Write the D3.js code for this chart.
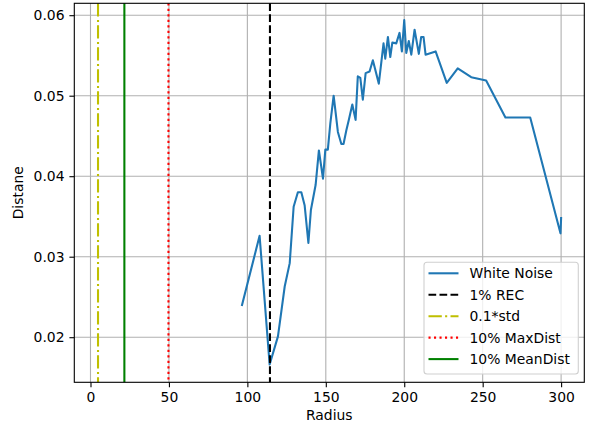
<!DOCTYPE html>
<html><head><meta charset="utf-8">
<script src="https://cdn.jsdelivr.net/npm/d3@7"></script>
<style>
body{margin:0;background:#fff;}
svg text{font-family:"DejaVu Sans",sans-serif;}
</style></head>
<body><svg id="c" width="592" height="429"></svg>
<script>
// Data
const radius = [96.6,107.8,114.2,119.5,123.8,127,129.5,132.2,134.4,136.5,138.9,140.5,143.5,145.6,148.2,149.7,151.3,152.9,155,157.7,159.9,161.3,163.1,164.7,166.9,169,170.4,172,173.6,175.4,177.9,180,183.8,186.8,187.9,189.6,191.1,192.4,194.9,197,198.5,200,201.3,202.9,204.5,206.6,209.3,210.8,212.3,213.6,220,227.1,234.1,242.7,252.2,264.5,280.3,299.6,300];
const distance = [0.0240,0.0326,0.0166,0.0201,0.0263,0.0292,0.0362,0.0380,0.0380,0.0364,0.0317,0.0358,0.0389,0.0432,0.0397,0.0433,0.0433,0.0466,0.0500,0.0455,0.0440,0.0440,0.0457,0.0470,0.0489,0.0470,0.0524,0.0522,0.0495,0.0528,0.0530,0.0544,0.0515,0.0565,0.0546,0.0573,0.0548,0.0566,0.0565,0.0578,0.0555,0.0594,0.0553,0.0568,0.0551,0.0582,0.0552,0.0573,0.0573,0.0551,0.0555,0.0516,0.0534,0.0523,0.0519,0.0473,0.0473,0.0329,0.0348];
const vlineNames = ["1% REC","0.1*std","10% MaxDist","10% MeanDist"];
const vlineValues = [114.4,4.8,49.7,21.6];
const vlineColors = ["#000000","#bfbf00","#ff0000","#008000"];
const vlineDash = ["7.7,3.3","13.3,3.3,2.1,3.3","2.1,3.4",null];
const xTicks = [0,50,100,150,200,250,300];
const yTicks = [0.02,0.03,0.04,0.05,0.06];
const seriesName = "White Noise";

const svg = d3.select("#c");
const L=74.3, R=584.3, T=3.3, B=382.3;
const x = d3.scaleLinear().domain([-10.32,314.78]).range([L,R]);
const y = d3.scaleLinear().domain([0.014398,0.061478]).range([B,T]);

// grid
const g = svg.append("g");
g.selectAll(".gx").data(xTicks).join("line")
 .attr("x1",d=>x(d)).attr("x2",d=>x(d)).attr("y1",T).attr("y2",B)
 .attr("stroke","#b0b0b0").attr("stroke-width",1.1);
g.selectAll(".gy").data(yTicks).join("line")
 .attr("y1",d=>y(d)).attr("y2",d=>y(d)).attr("x1",L).attr("x2",R)
 .attr("stroke","#b0b0b0").attr("stroke-width",1.1);

// series
const line = d3.line().x((d,i)=>x(radius[i])).y(d=>y(d));
svg.append("path").datum(distance).attr("d",line).attr("fill","none")
 .attr("stroke","#1f77b4").attr("stroke-width",2.08).attr("stroke-linejoin","round").attr("stroke-linecap","square");

// vertical lines
vlineValues.forEach((v,i)=>{
  const l = svg.append("line").attr("x1",x(v)).attr("x2",x(v)).attr("y1",T).attr("y2",B)
   .attr("stroke",vlineColors[i]).attr("stroke-width",2.08);
  if(vlineDash[i]) l.attr("stroke-dasharray",vlineDash[i]);
});

// axes
const xa = svg.append("g").attr("transform",`translate(0,${B})`)
 .call(d3.axisBottom(x).tickValues(xTicks).tickFormat(d3.format("d")).tickSize(4.9).tickPadding(4.9));
const ya = svg.append("g").attr("transform",`translate(${L},0)`)
 .call(d3.axisLeft(y).tickValues(yTicks).tickFormat(d3.format(".2f")).tickSize(4.9).tickPadding(4.9));
[xa,ya].forEach(a=>{
  a.select(".domain").remove();
  a.selectAll("line").attr("stroke","#000").attr("stroke-width",1.1);
  a.selectAll("text").attr("font-size",13.9).attr("fill","#000").attr("font-family","DejaVu Sans");
});
svg.append("rect").attr("x",L).attr("y",T).attr("width",R-L).attr("height",B-T)
 .attr("fill","none").attr("stroke","#000").attr("stroke-width",1.1);

svg.append("text").attr("x",(L+R)/2).attr("y",420).attr("text-anchor","middle")
 .attr("font-size",13.9).text("Radius");
svg.append("text").attr("transform",`translate(23,${(T+B)/2}) rotate(-90)`).attr("text-anchor","middle")
 .attr("font-size",13.9).text("Distane");

// legend
const lg = svg.append("g");
lg.append("rect").attr("x",424).attr("y",262.3).attr("width",154.3).attr("height",111.7)
 .attr("rx",3).attr("fill","#fff").attr("fill-opacity",0.8).attr("stroke","#d0d0d0").attr("stroke-width",1.1);
const names = [seriesName].concat(vlineNames);
const cols = ["#1f77b4"].concat(vlineColors);
const dashes = [null].concat(vlineDash);
names.forEach((n,i)=>{
  const yy = 273.3 + i*21.45;
  const l = lg.append("line").attr("x1",428.5).attr("x2",458.5).attr("y1",yy).attr("y2",yy)
   .attr("stroke",cols[i]).attr("stroke-width",2.08);
  if(dashes[i]) l.attr("stroke-dasharray",dashes[i]);
  lg.append("text").attr("x",469.5).attr("y",yy+5).attr("font-size",13.9).text(n);
});
</script></body></html>
